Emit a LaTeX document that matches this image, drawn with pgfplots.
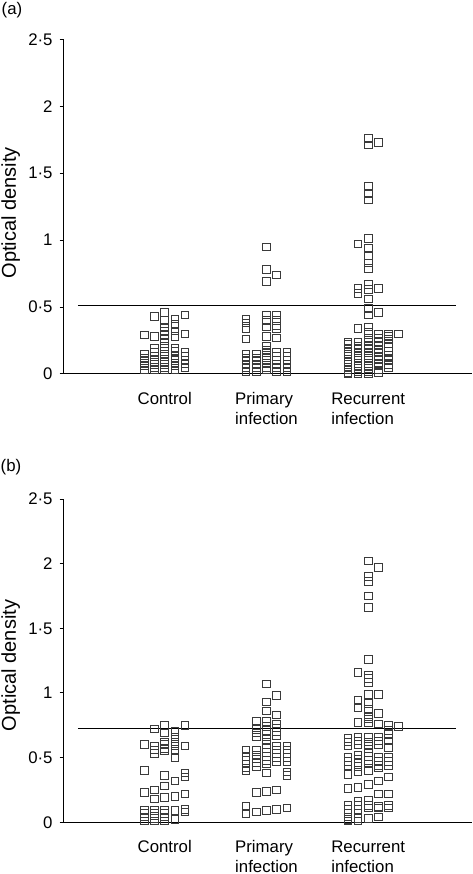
\documentclass[border=0pt]{standalone}
\usepackage{fontspec}
\setmainfont{Liberation Sans}
\usepackage{pgfplots}
\pgfplotsset{compat=1.18}
\definecolor{mk}{HTML}{3A3A3A}
\pgfplotsset{
  pt/.style={only marks, mark=square, mark size=1.9pt, mark options={draw=mk, line width=0.5pt, fill=none}},
  odstyle/.style={
    scale only axis, width=204.5pt,
    xmin=0, xmax=4.02, ymin=0, ymax=2.5,
    axis x line=bottom, axis y line=left,
    axis line style={-, line width=0.5pt, black},
    clip=false,
    xtick={1,2,3},
    xticklabels={Control, Primary\\infection, Recurrent\\infection},
    xtick style={draw=none},
    xticklabel style={align=left, yshift=-4pt, font=\fontsize{8.4}{10}\selectfont},
    ytick={0,0.5,1,1.5,2,2.5},
    yticklabels={0,0·5,1,1·5,2,2·5},
    tick align=outside, major tick length=1.7pt,
    ytick style={line width=0.5pt, black},
    yticklabel style={font=\fontsize{8.4}{10}\selectfont},
    ylabel={Optical density},
    ylabel style={font=\fontsize{8.4}{10}\selectfont},
  }
}
\begin{document}
\begin{tikzpicture}
\path[use as bounding box] (0,0) rectangle (236pt,437pt);
\node[font=\fontsize{8.4}{10}\selectfont] at (6pt,432pt) {(a)};
\node[font=\fontsize{8.4}{10}\selectfont] at (5.5pt,203.5pt) {(b)};
% ---------- panel (a)
\begin{axis}[odstyle, height=167.35pt, at={(31.5pt,250pt)}, anchor=south west,
  every axis y label/.style={at={(axis description cs:-0.128,0.482)}, rotate=90, anchor=center}]
\addplot[pt] coordinates {
(0.8,0.29)(0.8,0.15)(0.8,0.12)(0.8,0.10)(0.8,0.08)(0.8,0.06)(0.8,0.03)
(0.9,0.43)(0.9,0.28)(0.9,0.19)(0.9,0.16)(0.9,0.13)(0.9,0.11)(0.9,0.09)(0.9,0.07)(0.9,0.05)(0.9,0.03)
(1.0,0.46)(1.0,0.40)(1.0,0.35)(1.0,0.32)(1.0,0.29)(1.0,0.26)(1.0,0.23)(1.0,0.19)(1.0,0.17)(1.0,0.15)(1.0,0.13)(1.0,0.11)(1.0,0.09)(1.0,0.07)(1.0,0.05)(1.0,0.03)
(1.1,0.41)(1.1,0.37)(1.1,0.32)(1.1,0.28)(1.1,0.19)(1.1,0.17)(1.1,0.14)(1.1,0.12)(1.1,0.10)(1.1,0.08)(1.1,0.06)(1.1,0.03)
(1.2,0.44)(1.2,0.30)(1.2,0.16)(1.2,0.13)(1.2,0.10)(1.2,0.08)(1.2,0.05)
};
\addplot[pt] coordinates {
(1.8,0.41)(1.8,0.38)(1.8,0.34)(1.8,0.26)(1.8,0.15)(1.8,0.12)(1.8,0.10)(1.8,0.07)(1.8,0.05)(1.8,0.02)
(1.9,0.15)(1.9,0.12)(1.9,0.10)(1.9,0.07)(1.9,0.05)(1.9,0.02)
(2.0,0.95)(2.0,0.78)(2.0,0.69)(2.0,0.44)(2.0,0.40)(2.0,0.35)(2.0,0.28)(2.0,0.21)(2.0,0.18)(2.0,0.16)(2.0,0.14)(2.0,0.12)(2.0,0.10)(2.0,0.08)(2.0,0.05)(2.0,0.03)
(2.1,0.74)(2.1,0.44)(2.1,0.40)(2.1,0.36)(2.1,0.34)(2.1,0.27)(2.1,0.16)(2.1,0.13)(2.1,0.10)(2.1,0.07)(2.1,0.05)(2.1,0.02)
(2.2,0.16)(2.2,0.13)(2.2,0.10)(2.2,0.07)(2.2,0.05)(2.2,0.02)
};
\addplot[pt] coordinates {
(2.8,0.24)(2.8,0.22)(2.8,0.19)(2.8,0.17)(2.8,0.15)(2.8,0.13)(2.8,0.11)(2.8,0.09)(2.8,0.07)(2.8,0.05)(2.8,0.03)(2.8,0.01)(2.8,0.0)
(2.9,0.97)(2.9,0.64)(2.9,0.60)(2.9,0.34)(2.9,0.24)(2.9,0.21)(2.9,0.19)(2.9,0.16)(2.9,0.14)(2.9,0.12)(2.9,0.10)(2.9,0.08)(2.9,0.06)(2.9,0.04)(2.9,0.02)(2.9,0.0)
(3.0,1.76)(3.0,1.71)(3.0,1.40)(3.0,1.35)(3.0,1.30)(3.0,1.01)(3.0,0.94)(3.0,0.88)(3.0,0.83)(3.0,0.79)(3.0,0.67)(3.0,0.63)(3.0,0.56)(3.0,0.49)(3.0,0.44)(3.0,0.35)(3.0,0.31)(3.0,0.27)(3.0,0.24)(3.0,0.21)(3.0,0.19)(3.0,0.16)(3.0,0.14)(3.0,0.12)(3.0,0.10)(3.0,0.08)(3.0,0.06)(3.0,0.04)(3.0,0.02)(3.0,0.0)
(3.1,1.73)(3.1,0.64)(3.1,0.46)(3.1,0.30)(3.1,0.27)(3.1,0.24)(3.1,0.21)(3.1,0.18)(3.1,0.16)(3.1,0.13)(3.1,0.11)(3.1,0.08)(3.1,0.06)(3.1,0.03)(3.1,0.01)
(3.2,0.30)(3.2,0.28)(3.2,0.26)(3.2,0.23)(3.2,0.20)(3.2,0.17)(3.2,0.14)(3.2,0.12)(3.2,0.10)(3.2,0.07)(3.2,0.05)
(3.3,0.30)
};
\addplot[no marks, sharp plot, black, line width=0.5pt] coordinates {(0.145,0.515) (3.86,0.515)};
\end{axis}
% ---------- panel (b)
\begin{axis}[odstyle, height=161.65pt, at={(31.5pt,25.85pt)}, anchor=south west,
  every axis y label/.style={at={(axis description cs:-0.128,0.485)}, rotate=90, anchor=center}]
\addplot[pt] coordinates {
(0.8,0.60)(0.8,0.40)(0.8,0.23)(0.8,0.09)(0.8,0.07)(0.8,0.04)(0.8,0.01)
(0.9,0.72)(0.9,0.59)(0.9,0.56)(0.9,0.53)(0.9,0.25)(0.9,0.18)(0.9,0.09)(0.9,0.07)(0.9,0.05)(0.9,0.03)(0.9,0.01)
(1.0,0.75)(1.0,0.69)(1.0,0.62)(1.0,0.60)(1.0,0.57)(1.0,0.55)(1.0,0.36)(1.0,0.28)(1.0,0.19)(1.0,0.09)(1.0,0.07)(1.0,0.04)(1.0,0.01)
(1.1,0.70)(1.1,0.66)(1.1,0.62)(1.1,0.59)(1.1,0.55)(1.1,0.50)(1.1,0.32)(1.1,0.20)(1.1,0.09)(1.1,0.02)
(1.2,0.75)(1.2,0.59)(1.2,0.38)(1.2,0.35)(1.2,0.22)(1.2,0.10)(1.2,0.08)
};
\addplot[pt] coordinates {
(1.8,0.56)(1.8,0.51)(1.8,0.48)(1.8,0.45)(1.8,0.42)(1.8,0.40)(1.8,0.12)(1.8,0.07)
(1.9,0.78)(1.9,0.73)(1.9,0.69)(1.9,0.66)(1.9,0.56)(1.9,0.52)(1.9,0.49)(1.9,0.46)(1.9,0.43)(1.9,0.23)(1.9,0.08)
(2.0,1.07)(2.0,0.93)(2.0,0.86)(2.0,0.78)(2.0,0.74)(2.0,0.71)(2.0,0.68)(2.0,0.64)(2.0,0.60)(2.0,0.57)(2.0,0.54)(2.0,0.51)(2.0,0.48)(2.0,0.45)(2.0,0.38)(2.0,0.24)(2.0,0.09)
(2.1,0.98)(2.1,0.83)(2.1,0.76)(2.1,0.73)(2.1,0.70)(2.1,0.67)(2.1,0.59)(2.1,0.56)(2.1,0.53)(2.1,0.50)(2.1,0.47)(2.1,0.25)(2.1,0.10)
(2.2,0.59)(2.2,0.56)(2.2,0.53)(2.2,0.50)(2.2,0.47)(2.2,0.39)(2.2,0.36)(2.2,0.11)
};
\addplot[pt] coordinates {
(2.8,0.65)(2.8,0.62)(2.8,0.59)(2.8,0.50)(2.8,0.47)(2.8,0.44)(2.8,0.37)(2.8,0.26)(2.8,0.13)(2.8,0.10)(2.8,0.04)(2.8,0.02)(2.8,0.01)
(2.9,1.16)(2.9,0.94)(2.9,0.89)(2.9,0.77)(2.9,0.66)(2.9,0.63)(2.9,0.60)(2.9,0.52)(2.9,0.49)(2.9,0.46)(2.9,0.43)(2.9,0.39)(2.9,0.27)(2.9,0.16)(2.9,0.13)(2.9,0.10)(2.9,0.07)(2.9,0.03)(2.9,0.01)
(3.0,2.02)(3.0,1.90)(3.0,1.86)(3.0,1.75)(3.0,1.66)(3.0,1.26)(3.0,1.14)(3.0,1.11)(3.0,1.08)(3.0,0.99)(3.0,0.92)(3.0,0.87)(3.0,0.82)(3.0,0.80)(3.0,0.77)(3.0,0.66)(3.0,0.62)(3.0,0.59)(3.0,0.54)(3.0,0.51)(3.0,0.48)(3.0,0.45)(3.0,0.40)(3.0,0.29)(3.0,0.17)(3.0,0.13)(3.0,0.11)(3.0,0.03)
(3.1,1.97)(3.1,0.99)(3.1,0.84)(3.1,0.76)(3.1,0.66)(3.1,0.63)(3.1,0.60)(3.1,0.50)(3.1,0.47)(3.1,0.44)(3.1,0.42)(3.1,0.32)(3.1,0.22)(3.1,0.12)(3.1,0.11)(3.1,0.04)
(3.2,0.75)(3.2,0.71)(3.2,0.68)(3.2,0.63)(3.2,0.58)(3.2,0.50)(3.2,0.47)(3.2,0.44)(3.2,0.35)(3.2,0.22)(3.2,0.13)(3.2,0.11)
(3.3,0.74)
};
\addplot[no marks, sharp plot, black, line width=0.5pt] coordinates {(0.145,0.724) (3.86,0.724)};
\end{axis}
\end{tikzpicture}
\end{document}
